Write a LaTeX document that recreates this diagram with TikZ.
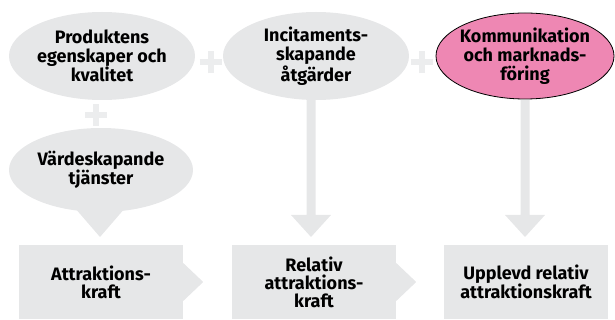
\documentclass[tikz,border=0pt]{standalone}
\usepackage{fontspec}
\setmainfont{Fira Sans}
\usetikzlibrary{shapes.geometric}
\definecolor{bg}{HTML}{E6E7E8}
\definecolor{plusc}{HTML}{ECEDEE}
\definecolor{pinkc}{HTML}{EE87B3}
\begin{document}
\begin{tikzpicture}[x=1pt,y=-1pt,
  ell/.style={ellipse,fill=bg,minimum width=186pt,minimum height=88pt,inner sep=0pt},
  txt/.style={inner sep=0pt,align=center,font=\fontsize{18}{19}\selectfont\bfseries},
  box/.style={rectangle,fill=bg,minimum width=164pt,minimum height=74pt,inner sep=0pt,align=center,font=\fontsize{18}{18}\selectfont\bfseries},
  pluss/.style={draw=plusc,line width=6pt}]
\useasboundingbox (0,0) rectangle (615,320);
% ellipses
\node[ell] (e1) at (102,56) {};
\node[txt] (t1) at (e1) {Produktens\\egenskaper och\\kvalitet};
\node[ell] (e2) at (316,56) {};
\node[txt] (t2) at (e2) {Incitaments-\\skapande\\åtgärder};
\node[ell,fill=pinkc,draw=black,line width=0.8pt,minimum width=178pt,minimum height=86pt] (e3) at (525,56) {};
\node[txt] (t3) at (e3) {Kommunikation\\och marknads-\\föring};
% speech bubble tail
\coordinate (tipv) at (100,237);
\fill[bg] (68,200) -- (tipv) -- (132,200) -- cycle;
\node[ell,minimum width=184pt,minimum height=84pt] (e4) at (101,170) {};
\node[txt] (t4) at (e4) {Värdeskapande\\tjänster};
% plus signs
\coordinate (p1) at (210.5,62.5);
\coordinate (p2) at (422,62.5);
\coordinate (p3) at (96,115);
\foreach \p in {p1,p2,p3}{
  \draw[pluss] ([xshift=-11pt]\p) -- ([xshift=11pt]\p);
  \draw[pluss] ([yshift=-11pt]\p) -- ([yshift=11pt]\p);
}
% boxes
\node[box] (b1) at (101,282) {Attraktions-\\kraft};
\node[box] (b2) at (314,282) {Relativ\\attraktions-\\kraft};
\node[box] (b3) at (526,282) {Upplevd relativ\\attraktionskraft};
% side arrow tips
\fill[bg] ([yshift=-19pt]b1.east) -- ([xshift=20pt]b1.east) -- ([yshift=19pt]b1.east) -- cycle;
\fill[bg] ([yshift=-19pt]b2.east) -- ([xshift=20pt]b2.east) -- ([yshift=19pt]b2.east) -- cycle;
% vertical arrows
\coordinate (a2) at (311,237);
\coordinate (a3) at (525,237);
\fill[bg] (306.5,99) rectangle (315.5,216) (291,215) -- (a2) -- (331,215) -- cycle;
\fill[bg] (520.5,100) rectangle (529.5,216) (505,215) -- (a3) -- (545,215) -- cycle;
\end{tikzpicture}
\end{document}
